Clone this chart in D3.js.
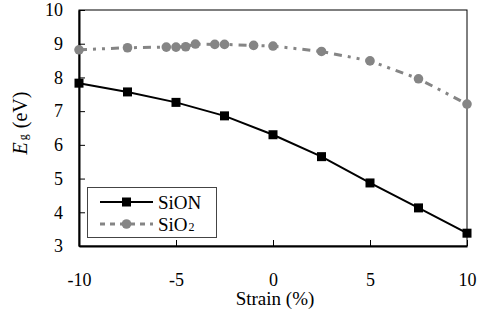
<!DOCTYPE html>
<html lang="en">
<head>
  <meta charset="UTF-8">
  <title>Eg vs Strain</title>
  <script src="https://cdnjs.cloudflare.com/ajax/libs/d3/7.8.5/d3.min.js"></script>
  <style>
    body { margin: 0; background: #fff; }
    svg text { font-family: "Liberation Serif", "Times New Roman", Times, serif !important; }
  </style>
</head>
<body>
  <svg width="478" height="324"></svg>
  <script>
    // SiON data
    const sionStrain = [-10, -7.5, -5, -2.5, 0, 2.5, 5, 7.5, 10];
    const sionEg = [7.83, 7.57, 7.26, 6.86, 6.3, 5.65, 4.87, 4.13, 3.38];

    // SiO2 data
    const sio2Strain = [-10, -7.5, -5.5, -5, -4.5, -4, -3, -2.5, -1, 0, 2.5, 5, 7.5, 10];
    const sio2Eg = [8.82, 8.88, 8.9, 8.9, 8.91, 8.99, 8.98, 8.98, 8.95, 8.93, 8.77, 8.49, 7.96, 7.21];

    const xTicks = [-10, -5, 0, 5, 10];
    const yTicks = [3, 4, 5, 6, 7, 8, 9, 10];

    const svg = d3.select("svg");
    const mLeft = 79, mRight = 467, mTop = 10, mBottom = 246;
    const grey = "#858585";

    const x = d3.scaleLinear().domain([-10, 10]).range([mLeft, mRight]);
    const y = d3.scaleLinear().domain([3, 10]).range([mBottom, mTop]);

    // plot frame
    svg.append("rect")
      .attr("x", mLeft).attr("y", mTop)
      .attr("width", mRight - mLeft).attr("height", mBottom - mTop)
      .attr("fill", "none").attr("stroke", "#000").attr("stroke-width", 1);

    const fmt = d => String(d); // plain hyphen for negatives

    // axes (ticks pointing inward)
    const xAxis = svg.append("g")
      .attr("transform", `translate(0,${mBottom})`)
      .call(d3.axisBottom(x).tickValues(xTicks).tickFormat(fmt).tickSizeInner(-6).tickSizeOuter(0).tickPadding(27));
    const yAxis = svg.append("g")
      .attr("transform", `translate(${mLeft},0)`)
      .call(d3.axisLeft(y).tickValues(yTicks).tickFormat(fmt).tickSizeInner(-6).tickSizeOuter(0).tickPadding(16));

    [xAxis, yAxis].forEach(g => {
      g.attr("font-family", null);
      g.select(".domain").attr("stroke", "#000").attr("stroke-width", 2);
      g.selectAll(".tick line").attr("stroke", "#000");
      g.selectAll(".tick text").attr("font-size", 18).attr("fill", "#000");
    });

    // axis titles
    svg.append("text")
      .attr("x", 275).attr("y", 305)
      .attr("text-anchor", "middle")
      .attr("font-size", 19)
      .text("Strain (%)");

    const yt = svg.append("text")
      .attr("transform", "translate(27,123) rotate(-90)")
      .attr("text-anchor", "middle")
      .attr("font-size", 20);
    yt.append("tspan").attr("font-style", "italic").text("E");
    yt.append("tspan").attr("font-size", 12).attr("dx", 2).text("g");
    yt.append("tspan").attr("dx", 6).text("(eV)");

    // SiO2 series
    const sio2 = sio2Strain.map((s, i) => [s, sio2Eg[i]]);
    svg.append("path")
      .datum(sio2)
      .attr("fill", "none")
      .attr("stroke", grey)
      .attr("stroke-width", 3)
      .attr("stroke-dasharray", "8,6,3,6,3,6")
      .attr("d", d3.line().x(d => x(d[0])).y(d => y(d[1])));
    svg.append("g").selectAll("circle")
      .data(sio2)
      .enter().append("circle")
      .attr("cx", d => x(d[0]))
      .attr("cy", d => y(d[1]))
      .attr("r", 4.8)
      .attr("fill", grey);

    // SiON series
    const sion = sionStrain.map((s, i) => [s, sionEg[i]]);
    svg.append("path")
      .datum(sion)
      .attr("fill", "none")
      .attr("stroke", "#000")
      .attr("stroke-width", 2)
      .attr("d", d3.line().x(d => x(d[0])).y(d => y(d[1])));
    svg.append("g").selectAll("rect")
      .data(sion)
      .enter().append("rect")
      .attr("x", d => x(d[0]) - 4.5)
      .attr("y", d => y(d[1]) - 4.5)
      .attr("width", 9).attr("height", 9)
      .attr("fill", "#000");

    // legend
    const lg = svg.append("g");
    lg.append("rect")
      .attr("x", 87.5).attr("y", 187.5)
      .attr("width", 129).attr("height", 50)
      .attr("fill", "#fff").attr("stroke", "#444").attr("stroke-width", 1);

    lg.append("line")
      .attr("x1", 100).attr("x2", 153).attr("y1", 202).attr("y2", 202)
      .attr("stroke", "#000").attr("stroke-width", 2);
    lg.append("rect")
      .attr("x", 122).attr("y", 197.5).attr("width", 9).attr("height", 9)
      .attr("fill", "#000");
    lg.append("text").attr("x", 158).attr("y", 209).attr("font-size", 19).text("SiON");

    lg.append("line")
      .attr("x1", 100).attr("x2", 153).attr("y1", 224).attr("y2", 224)
      .attr("stroke", grey).attr("stroke-width", 3)
      .attr("stroke-dasharray", "5,5");
    lg.append("circle").attr("cx", 126.5).attr("cy", 224).attr("r", 4.8).attr("fill", grey);
    const t2 = lg.append("text").attr("x", 158).attr("y", 231).attr("font-size", 19);
    t2.append("tspan").text("SiO");
    t2.append("tspan").attr("font-size", 12).attr("dx", 1).text("2");
  </script>
</body>
</html>
